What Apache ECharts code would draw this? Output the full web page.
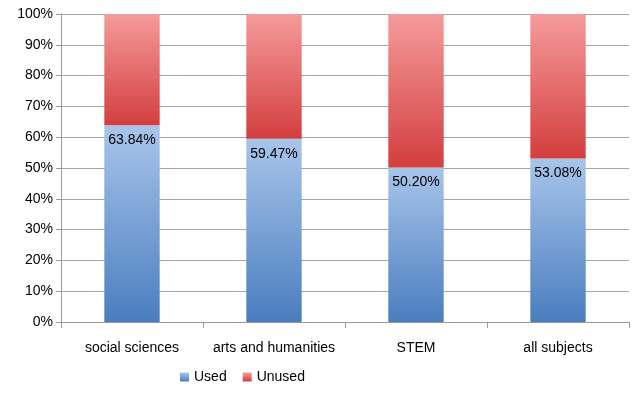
<!DOCTYPE html>
<html><head><meta charset="utf-8">
<script src="https://cdn.jsdelivr.net/npm/echarts@6/dist/echarts.min.js"></script>
<style>html,body{margin:0;padding:0;background:#fff}#c{width:640px;height:397px}</style>
</head><body><div id="c"></div>
<script>
var categories = ['social sciences', 'arts and humanities', 'STEM', 'all subjects'];
var used = [63.84, 59.47, 50.20, 53.08];
var unused = [36.16, 40.53, 49.80, 46.92];
var yTicks = [0, 10, 20, 30, 40, 50, 60, 70, 80, 90, 100];

var chart = echarts.init(document.getElementById('c'));
var font = 'Liberation Sans';
function grad(top, bottom) {
  return new echarts.graphic.LinearGradient(0, 0, 0, 1, [{offset: 0, color: top}, {offset: 1, color: bottom}]);
}
chart.setOption({
  animation: false,
  textStyle: {fontFamily: font},
  grid: {left: 61, right: 11, top: 14, bottom: 75},
  legend: {
    data: ['Used', 'Unused'],
    left: 175, top: 365,
    itemWidth: 9, itemHeight: 9, itemGap: 16,
    icon: 'rect',
    textStyle: {fontSize: 14, color: '#000', fontFamily: font}
  },
  xAxis: {
    type: 'category', data: categories,
    axisLine: {lineStyle: {color: '#999'}},
    axisTick: {show: true, length: 6, lineStyle: {color: '#999'}},
    axisLabel: {fontSize: 14, color: '#000', margin: 19, fontFamily: font, interval: 0}
  },
  yAxis: {
    type: 'value', min: 0, max: 100, interval: 10,
    axisLine: {show: true, lineStyle: {color: '#999'}},
    axisTick: {show: true, length: 5, lineStyle: {color: '#999'}},
    splitLine: {lineStyle: {color: '#a6a6a6'}},
    axisLabel: {fontSize: 14, color: '#000', margin: 8, fontFamily: font,
      formatter: function (v) { return v + '%'; }}
  },
  series: [
    {
      name: 'Used', type: 'bar', stack: 's', data: used, barWidth: '39%',
      itemStyle: {color: grad('#a8c5ea', '#4a7dbf')},
      label: {show: true, position: 'insideTop', distance: 8, color: '#000', fontSize: 14, fontFamily: font,
        formatter: function (p) { return p.value.toFixed(2) + '%'; }}
    },
    {
      name: 'Unused', type: 'bar', stack: 's', data: unused, barWidth: '39%',
      itemStyle: {color: grad('#f59b9b', '#d33e3e')}
    }
  ]
});
</script></body></html>
